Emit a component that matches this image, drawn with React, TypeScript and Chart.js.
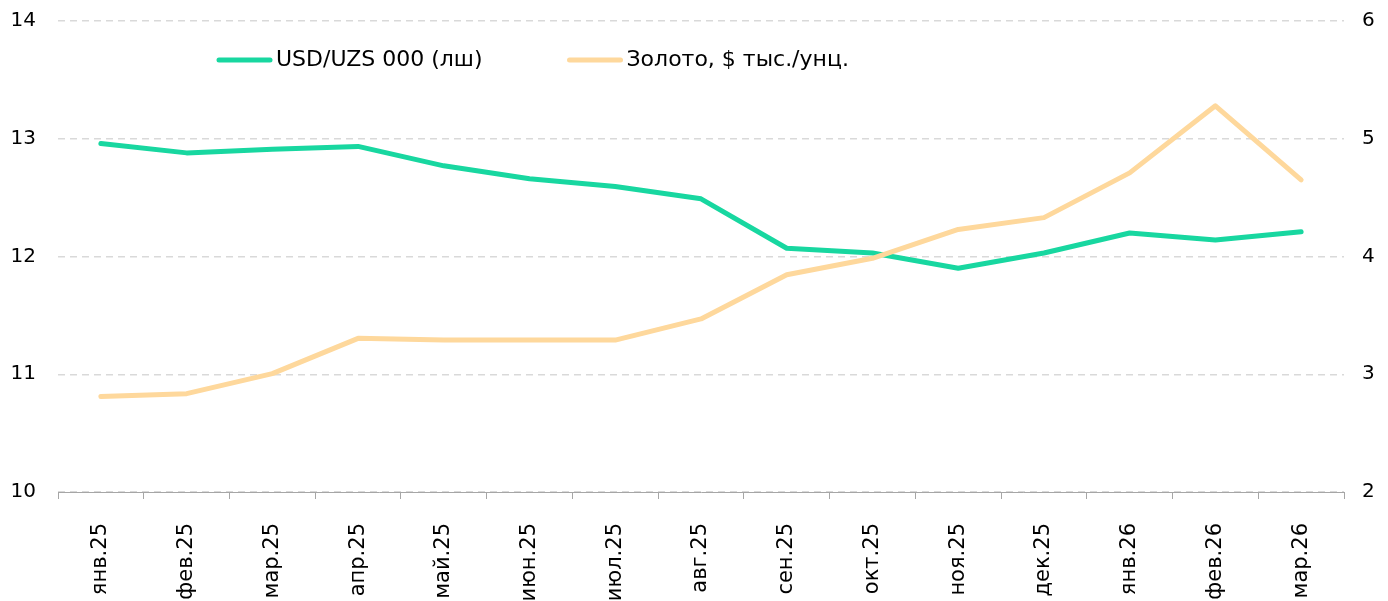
import React, { useEffect, useRef } from "react";
import { Chart, registerables } from "chart.js";

Chart.register(...registerables);

const categories = [
  "янв.25", "фев.25", "мар.25", "апр.25", "май.25", "июн.25", "июл.25", "авг.25",
  "сен.25", "окт.25", "ноя.25", "дек.25", "янв.26", "фев.26", "мар.26",
];

const usdUzs = [
  12.96, 12.88, 12.91, 12.935, 12.77, 12.66, 12.595, 12.49,
  12.07, 12.03, 11.9, 12.03, 12.2, 12.14, 12.21,
];

const gold = [
  2.81, 2.835, 3.005, 3.305, 3.29, 3.29, 3.29, 3.47,
  3.845, 3.985, 4.23, 4.33, 4.71, 5.28, 4.65,
];

const leftTicks = [10, 11, 12, 13, 14];
const rightTicks = [2, 3, 4, 5, 6];

const seriesNames = ["USD/UZS 000 (лш)", "Золото, $ тыс./унц."];

const GREEN = "rgb(24, 215, 160)";
const GOLD = "rgb(254, 216, 156)";
const FONT = "'DejaVu Sans', Verdana, sans-serif";

const legendPlugin = {
  id: "customLegend",
  afterDraw(chart: any) {
    const { ctx, chartArea } = chart;
    const items = [
      { label: seriesNames[0], color: GREEN },
      { label: seriesNames[1], color: GOLD },
    ];
    ctx.save();
    ctx.font = `22px ${FONT}`;
    ctx.textBaseline = "middle";
    ctx.textAlign = "left";
    let x = chartArea.left + 159;
    const y = chartArea.top + 39;
    items.forEach((it) => {
      ctx.strokeStyle = it.color;
      ctx.lineWidth = 5;
      ctx.lineCap = "round";
      ctx.beginPath();
      ctx.moveTo(x + 2, y);
      ctx.lineTo(x + 53, y);
      ctx.stroke();
      ctx.fillStyle = "#000";
      ctx.fillText(it.label, x + 59, y);
      x += 59 + ctx.measureText(it.label).width + 85;
    });
    ctx.restore();
  },
};

function fixYPadding(scale: any, width: number) {
  scale.width = width;
  scale.paddingTop = 0;
  scale.paddingBottom = 0;
}

export default function App() {
  const ref = useRef<HTMLCanvasElement | null>(null);

  useEffect(() => {
    if (!ref.current) return;
    const chart = new Chart(ref.current, {
      type: "line",
      data: {
        labels: categories,
        datasets: [
          {
            label: seriesNames[0],
            data: usdUzs,
            yAxisID: "y",
            borderColor: GREEN,
            backgroundColor: GREEN,
            borderWidth: 5,
            pointRadius: 0,
            tension: 0,
            borderCapStyle: "round",
            borderJoinStyle: "round",
            order: 2,
          },
          {
            label: seriesNames[1],
            data: gold,
            yAxisID: "y1",
            borderColor: GOLD,
            backgroundColor: GOLD,
            borderWidth: 5,
            pointRadius: 0,
            tension: 0,
            borderCapStyle: "round",
            borderJoinStyle: "round",
            order: 1,
          },
        ],
      },
      options: {
        animation: false,
        responsive: false,
        maintainAspectRatio: false,
        layout: { padding: { top: 21, left: 0, right: 0, bottom: 0 } },
        plugins: {
          legend: { display: false },
          tooltip: { enabled: false },
        },
        scales: {
          x: {
            type: "category",
            offset: true,
            grid: {
              display: true,
              offset: true,
              drawOnChartArea: false,
              drawTicks: true,
              tickLength: 7,
              tickColor: "#a6a6a6",
              tickWidth: 1,
            },
            border: { display: true, color: "#a6a6a6", width: 1 },
            ticks: {
              autoSkip: false,
              minRotation: 90,
              maxRotation: 90,
              padding: 24,
              color: "#000",
              font: { family: FONT, size: 21 },
            },
            afterFit(scale: any) {
              scale.height = 109;
              scale.paddingLeft = 0;
              scale.paddingRight = 0;
            },
          },
          y: {
            position: "left",
            min: 10,
            max: 14,
            afterBuildTicks(scale: any) {
              scale.ticks = leftTicks.map((v) => ({ value: v }));
            },
            grid: {
              color: "#d9d9d9",
              lineWidth: 1.5,
              drawTicks: false,
            },
            border: { display: false, dash: [7, 5] },
            ticks: {
              padding: 22,
              color: "#000",
              font: { family: FONT, size: 20 },
            },
            afterFit(scale: any) {
              fixYPadding(scale, 58);
            },
          },
          y1: {
            position: "right",
            min: 2,
            max: 6,
            afterBuildTicks(scale: any) {
              scale.ticks = rightTicks.map((v) => ({ value: v }));
            },
            grid: { display: false, drawOnChartArea: false, drawTicks: false },
            border: { display: false },
            ticks: {
              padding: 18,
              color: "#000",
              font: { family: FONT, size: 20 },
            },
            afterFit(scale: any) {
              fixYPadding(scale, 44);
            },
          },
        },
      },
      plugins: [legendPlugin],
    });
    return () => chart.destroy();
  }, []);

  return (
    <div style={{ position: "fixed", left: 0, top: 0, width: 1388, height: 601, background: "#fff" }}>
      <canvas ref={ref} width={1388} height={601} style={{ display: "block" }} />
    </div>
  );
}
